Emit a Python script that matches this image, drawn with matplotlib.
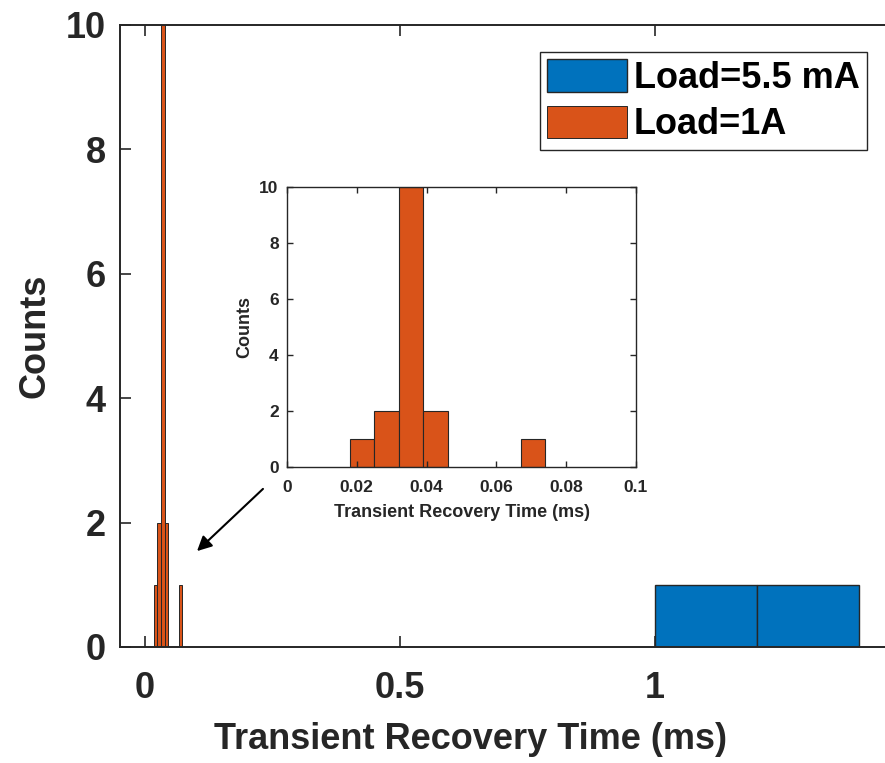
import numpy as np
import matplotlib
matplotlib.use("Agg")
import matplotlib.pyplot as plt

plt.rcParams['font.family'] = ['Liberation Sans', 'DejaVu Sans']
plt.rcParams['font.weight'] = 'bold'

# histogram data (bin edges in ms, counts)
edges_light = [1.0, 1.2, 1.4]
counts_light = [1, 1]
edges_heavy = [0.018, 0.025, 0.032, 0.039, 0.046, 0.053, 0.060, 0.067, 0.074]
counts_heavy = [1, 2, 10, 2, 0, 0, 0, 1]

main_xticks = [0, 0.5, 1]
main_yticks = [0, 2, 4, 6, 8, 10]
inset_xticks = [0, 0.02, 0.04, 0.06, 0.08, 0.1]
inset_yticks = [0, 2, 4, 6, 8, 10]

BLUE = '#0072BD'
ORANGE = '#D95319'
DARK = '#262626'


def draw_hist(ax, edges, counts, color, label=None, lw=0.8):
    edges = np.asarray(edges)
    counts = np.asarray(counts)
    keep = counts > 0
    ax.bar(edges[:-1][keep], counts[keep], width=np.diff(edges)[keep],
           align='edge', color=color, edgecolor=DARK, linewidth=lw,
           label=label)


fig = plt.figure(figsize=(8.85, 7.63), dpi=100)
ax = fig.add_axes([120 / 885, 1 - 647 / 763, 765 / 885, 622 / 763])

draw_hist(ax, edges_light, counts_light, BLUE, 'Load=5.5 mA', lw=1.0)
draw_hist(ax, edges_heavy, counts_heavy, ORANGE, 'Load=1A', lw=0.7)

ax.set_xlim(-0.0484, 1.451)
ax.set_ylim(0, 10)
ax.set_xticks(main_xticks)
ax.set_xticklabels(['0', '0.5', '1'])
ax.set_yticks(main_yticks)
ax.tick_params(direction='in', length=8, width=1.2, colors=DARK,
               labelsize=26, top=True, right=False)
ax.tick_params(axis='x', pad=17)
ax.tick_params(axis='y', pad=10)
for lab in ax.get_xticklabels() + ax.get_yticklabels():
    lab.set_fontweight('bold')
for side in ['left', 'bottom', 'top']:
    ax.spines[side].set_color(DARK)
    ax.spines[side].set_linewidth(1.4)
ax.spines['right'].set_visible(False)
ax.set_xlabel('Transient Recovery Time (ms)', fontsize=26,
              fontweight='bold', color=DARK)
ax.xaxis.set_label_coords((470 - 120) / 765, -0.121)
ax.set_ylabel('Counts', fontsize=26, fontweight='bold', color=DARK,
              labelpad=10)

leg = ax.legend(loc='upper right', bbox_to_anchor=(867 / 885, 1 - 52 / 763),
                bbox_transform=fig.transFigure, borderaxespad=0,
                fontsize=26, handlelength=2.2, handleheight=1.0,
                labelspacing=0.28, borderpad=0.2, handletextpad=0.2,
                fancybox=False, framealpha=1)
leg.get_frame().set_edgecolor(DARK)
leg.get_frame().set_linewidth(1.0)
for t in leg.get_texts():
    t.set_fontweight('bold')

# inset zoom on the 1A histogram
ins = fig.add_axes([287 / 885, 1 - 467 / 763, 349 / 885, 280 / 763])
draw_hist(ins, edges_heavy, counts_heavy, ORANGE, lw=0.8)
ins.set_xlim(0, 0.1)
ins.set_ylim(0, 10)
ins.set_xticks(inset_xticks)
ins.set_xticklabels(['0', '0.02', '0.04', '0.06', '0.08', '0.1'])
ins.set_yticks(inset_yticks)
ins.tick_params(direction='in', length=4, width=1.0, colors=DARK,
                labelsize=12.5, top=True, right=True)
ins.tick_params(axis='x', pad=9)
ins.tick_params(axis='y', pad=6)
for lab in ins.get_xticklabels() + ins.get_yticklabels():
    lab.set_fontweight('bold')
for sp in ins.spines.values():
    sp.set_color(DARK)
    sp.set_linewidth(1.0)
ins.set_xlabel('Transient Recovery Time (ms)', fontsize=13,
               fontweight='bold', color=DARK, labelpad=7)
ins.set_ylabel('Counts', fontsize=13, fontweight='bold', color=DARK,
               labelpad=4)

fig.patches.append(matplotlib.patches.FancyArrowPatch(
    (265 / 885, 1 - 487 / 763), (195 / 885, 1 - 553 / 763),
    transform=fig.transFigure, arrowstyle='-|>', mutation_scale=22,
    color='black', linewidth=1.5))

fig.savefig('out.png', dpi=100)
